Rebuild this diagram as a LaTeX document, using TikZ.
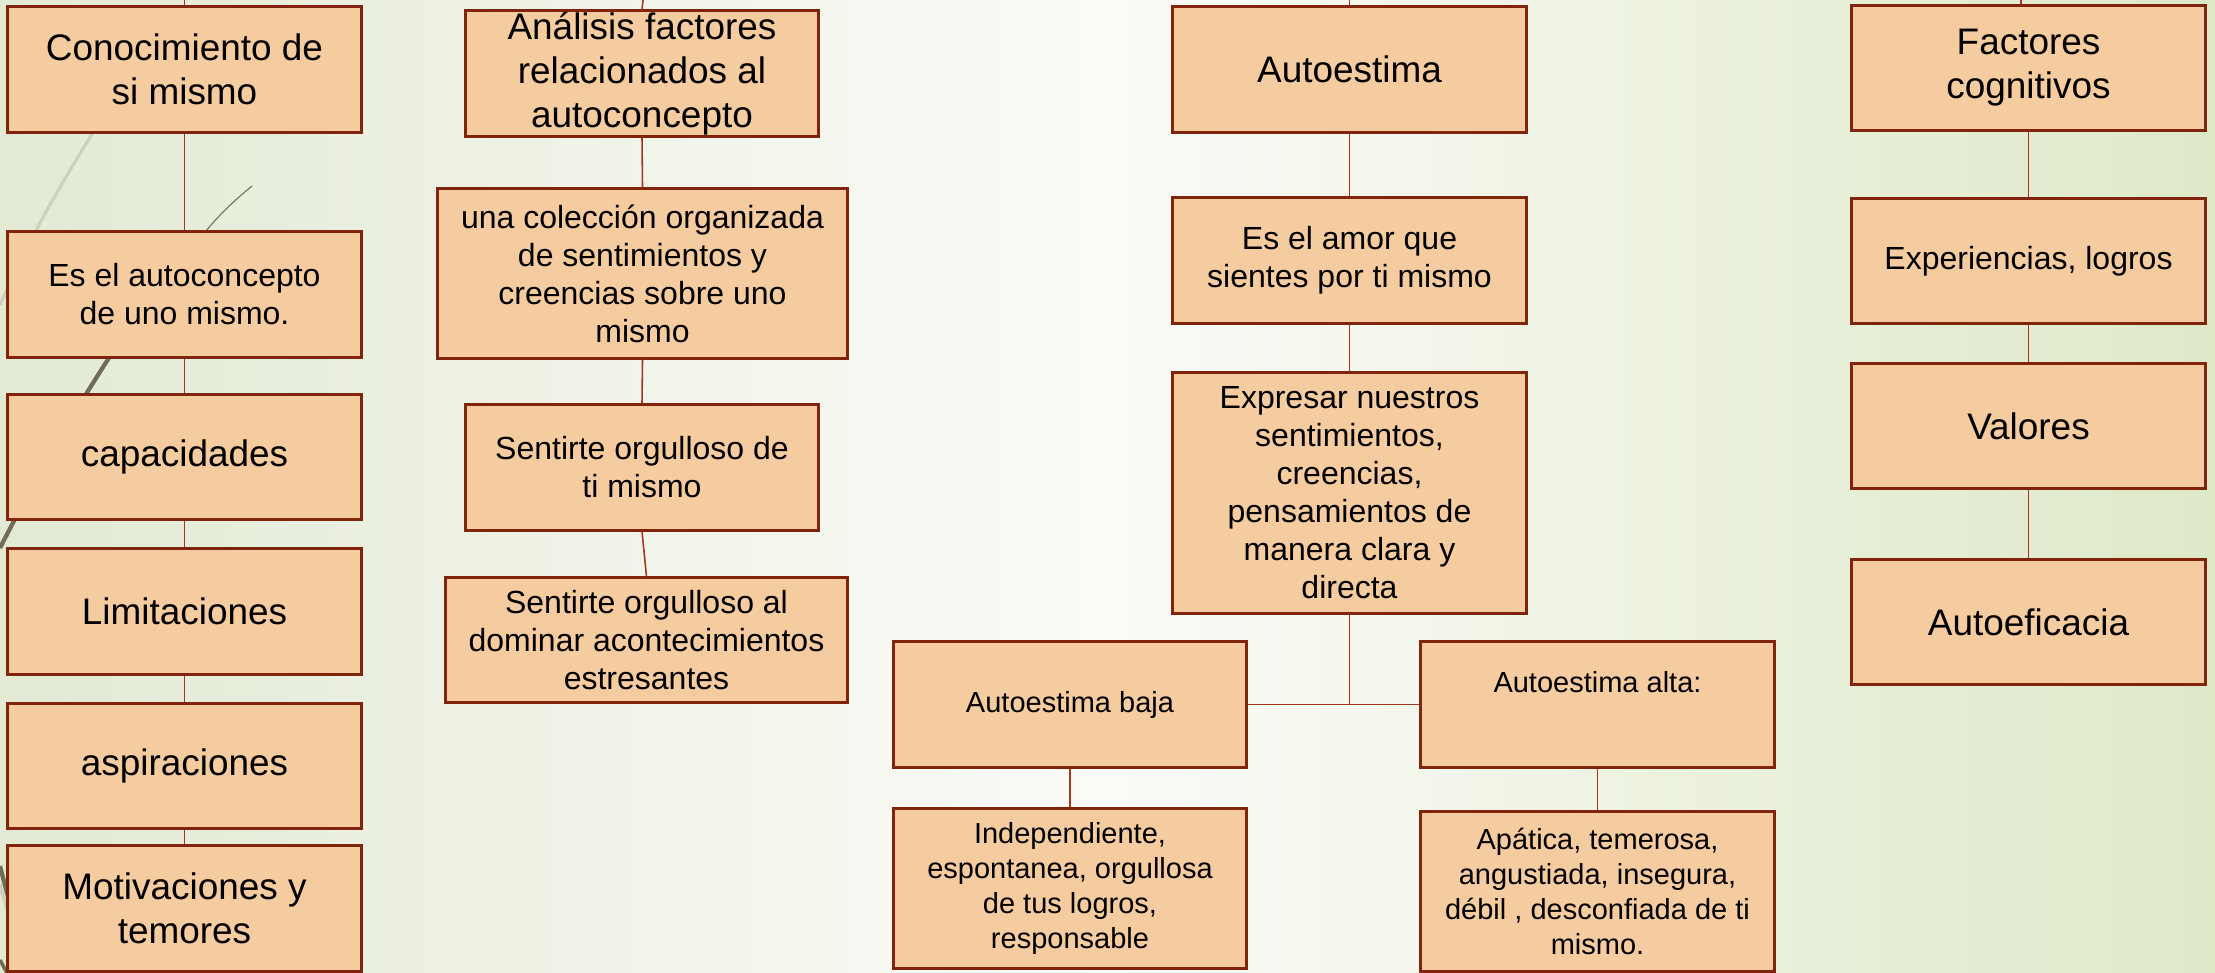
\documentclass[tikz,border=0pt]{standalone}
\usepackage{fontspec}
\setmainfont{Liberation Sans}
\usetikzlibrary{positioning}

\definecolor{boxfill}{RGB}{245,203,160}
\definecolor{boxline}{RGB}{128,36,14}
\definecolor{connline}{RGB}{168,52,30}
\definecolor{bgleft}{RGB}{226,234,212}
\definecolor{bgmid}{RGB}{251,251,248}
\definecolor{bgright}{RGB}{222,233,200}
\definecolor{wispdark}{RGB}{112,108,86}
\definecolor{wisplight}{RGB}{205,208,188}

\newcommand{\bigtxt}{\fontsize{10.5}{12.5}\selectfont}
\newcommand{\midtxt}{\fontsize{9.1}{10.8}\selectfont}
\newcommand{\smtxt}{\fontsize{8.25}{10}\selectfont}

\begin{document}
\begin{tikzpicture}[x=0.01cm,y=-0.01cm,
    box/.style={draw=boxline,fill=boxfill,line width=0.85pt,inner sep=0pt,
      align=center,minimum width=3.53cm,minimum height=1.25cm},
    conn/.style={draw=connline,line width=0.45pt}]
    \useasboundingbox (0,0) rectangle (2215,973);
    \fill[left color=bgleft,right color=bgright,middle color=bgmid] (0,0) rectangle (2215,973);

    % wisp lines on the left
    \draw[wisplight,line width=0.9pt] (120,90) .. controls (75,160) and (35,225) .. (0,305);
    \draw[wispdark,line width=0.3pt] (252,186) .. controls (225,208) and (210,225) .. (195,245);
    \draw[wispdark,line width=1.2pt] (195,245) .. controls (140,300) and (60,430) .. (0,548);
    \draw[wispdark,line width=1.2pt] (0,866) -- (10,905);
    \draw[wisplight,line width=1.2pt] (0,884) -- (10,918);
    \draw[wispdark,line width=1pt] (0,960) -- (7,973);

    \coordinate (t1) at (184.5,0);
    \coordinate (t2) at (643,0);
    \coordinate (t3) at (1349.5,0);
    \coordinate (t4) at (2021,0);

    % autoconcepto
    \node(c1a) at (184.5,69.5) [box,font=\bigtxt] {Conocimiento de\\si mismo};
    \node(c1b) at (184.5,294.5) [box,font=\midtxt] {Es el autoconcepto\\de uno mismo.};
    \node(c1c) at (184.5,457) [box,font=\bigtxt] {capacidades};
    \node(c1d) at (184.5,611.5) [box,font=\bigtxt] {Limitaciones};
    \node(c1e) at (184.5,766) [box,font=\bigtxt] {aspiraciones};
    \node(c1f) at (184.5,908.5) [box,font=\bigtxt] {Motivaciones y\\temores};

    % factores
    \node(c2a) at (642,73.5) [box,font=\bigtxt] {Análisis factores\\relacionados al\\autoconcepto};
    \node(c2b) at (642.5,273.5) [box,font=\midtxt,minimum width=4.09cm,minimum height=1.69cm]
      {una colección organizada\\de sentimientos y\\creencias sobre uno\\mismo};
    \node(c2c) at (642,467.5) [box,font=\midtxt] {Sentirte orgulloso de\\ti mismo};
    \node(c2d) at (646.5,640) [box,font=\midtxt,minimum width=4.01cm,minimum height=1.24cm]
      {Sentirte orgulloso al\\dominar acontecimientos\\estresantes};

    % autoestima
    \node(c3a) at (1349.5,69.5) [box,font=\bigtxt] {Autoestima};
    \node(c3b) at (1349.5,260.5) [box,font=\midtxt] {Es el amor que\\sientes por ti mismo};
    \node(c3c) at (1349.5,493) [box,font=\midtxt,minimum height=2.40cm]
      {Expresar nuestros\\sentimientos,\\creencias,\\pensamientos de\\manera clara y\\directa};
    \node(c3d) at (1070,704.5) [box,font=\smtxt] {Autoestima baja};
    \node(c3e) at (1597.5,704.5) [box,font=\smtxt] {Autoestima alta:\\\strut};
    \node(c3f) at (1070,888.5) [box,font=\smtxt,minimum height=1.59cm]
      {Independiente,\\espontanea, orgullosa\\de tus logros,\\responsable};
    \node(c3g) at (1597.5,891.5) [box,font=\smtxt,minimum height=1.59cm]
      {Apática, temerosa,\\angustiada, insegura,\\débil , desconfiada de ti\\mismo.};

    % factores cognitivos
    \node(c4a) at (2028.5,68) [box,font=\bigtxt] {Factores\\cognitivos};
    \node(c4b) at (2028.5,261) [box,font=\midtxt] {Experiencias, logros};
    \node(c4c) at (2028.5,426) [box,font=\bigtxt] {Valores};
    \node(c4d) at (2028.5,622) [box,font=\bigtxt] {Autoeficacia};

    \draw (t1) edge[conn] (c1a.north);
    \draw (c1a.south) edge[conn] (c1b.north);
    \draw (c1b.south) edge[conn] (c1c.north);
    \draw (c1c.south) edge[conn] (c1d.north);
    \draw (c1d.south) edge[conn] (c1e.north);
    \draw (c1e.south) edge[conn] (c1f.north);

    \draw (t2) edge[conn] (c2a.north);
    \draw (c2a.south) edge[conn] (c2b.north);
    \draw (c2b.south) edge[conn] (c2c.north);
    \draw (c2c.south) edge[conn] (c2d.north);

    \draw (t3) edge[conn] (c3a.north);
    \draw (c3a.south) edge[conn] (c3b.north);
    \draw (c3b.south) edge[conn] (c3c.north);
    \draw (c3c.south) edge[conn] (c3c.south |- c3d.east);
    \draw (c3d.east) edge[conn] (c3e.west);
    \draw (c3d.south) edge[conn] (c3f.north);
    \draw (c3e.south) edge[conn] (c3g.north);

    \draw (t4) edge[conn] (t4 |- c4a.north);
    \draw (c4a.south) edge[conn] (c4b.north);
    \draw (c4b.south) edge[conn] (c4c.north);
    \draw (c4c.south) edge[conn] (c4d.north);
\end{tikzpicture}
\end{document}
